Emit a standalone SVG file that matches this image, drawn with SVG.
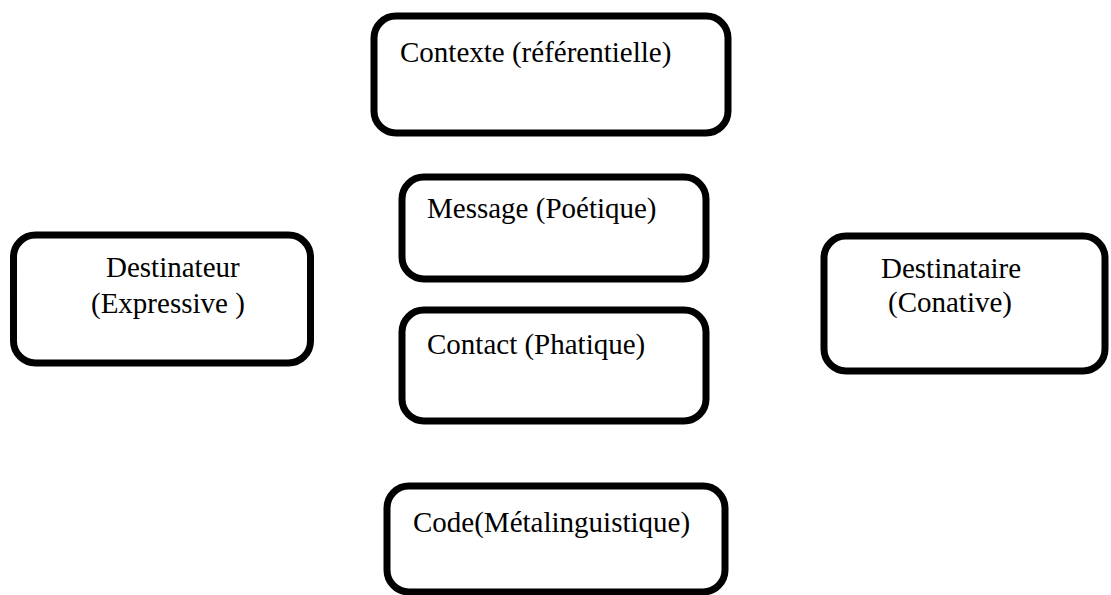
<svg xmlns="http://www.w3.org/2000/svg" width="1111" height="595" viewBox="0 0 1111 595">
<style>
.box{fill:#fff;stroke:#000;stroke-width:7;}
.t{font-family:"Liberation Serif","Times New Roman",serif;font-size:29px;fill:#000;}
</style>
<rect width="1111" height="595" fill="#fff"/>
<g id="connectors"></g>
<g id="contexte">
<rect class="box" x="374" y="16" width="354" height="117" rx="22"/>
<text class="t" x="400" y="62">Contexte (référentielle)</text>
</g>
<g id="message">
<rect class="box" x="402" y="177" width="304" height="102" rx="22"/>
<text class="t" x="427" y="218">Message (Poétique)</text>
</g>
<g id="contact">
<rect class="box" x="402" y="310" width="304" height="111" rx="22"/>
<text class="t" x="427" y="354">Contact (Phatique)</text>
</g>
<g id="destinateur">
<rect class="box" x="13.5" y="235" width="297" height="128" rx="22"/>
<text class="t" x="106" y="277">Destinateur</text>
<text class="t" x="91" y="313">(Expressive )</text>
</g>
<g id="destinataire">
<rect class="box" x="824" y="236" width="281" height="135" rx="22"/>
<text class="t" x="881" y="278">Destinataire</text>
<text class="t" x="888" y="312">(Conative)</text>
</g>
<g id="code">
<rect class="box" x="387" y="486" width="338" height="106" rx="22"/>
<text class="t" x="413" y="532">Code(Métalinguistique)</text>
</g>
</svg>
